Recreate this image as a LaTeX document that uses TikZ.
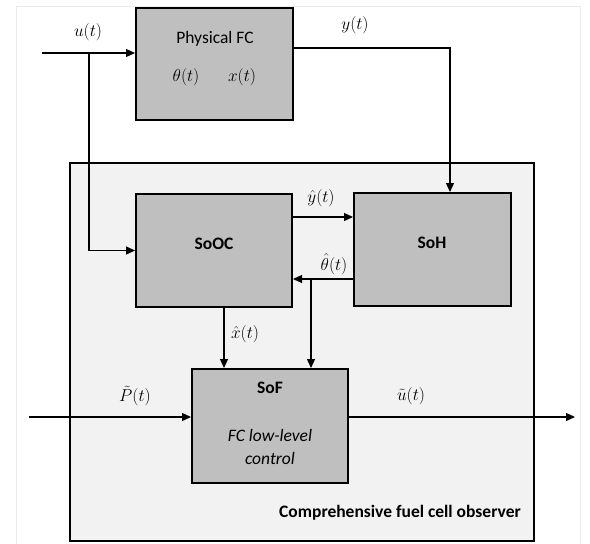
\documentclass[tikz,border=0pt]{standalone}
\usepackage{fontspec}
\setsansfont{Carlito}
\usetikzlibrary{arrows.meta}
\definecolor{boxgray}{HTML}{BFBFBF}
\definecolor{obsgray}{HTML}{F2F2F2}
\definecolor{framegray}{HTML}{EBEBEB}
\begin{document}
\begin{tikzpicture}[x=1pt,y=-1pt,
  blk/.style={draw=black,line width=2pt,fill=boxgray,inner sep=0pt},
  arr/.style={line width=1.3pt,-{Triangle[length=9pt,width=8pt]}},
  mlab/.style={font=\fontsize{18.5}{22}\selectfont,inner sep=0pt},
  txt/.style={font=\sffamily\fontsize{17.5}{21}\selectfont,inner sep=0pt},
  btxt/.style={font=\sffamily\bfseries\fontsize{17.5}{21}\selectfont,inner sep=0pt}]
\useasboundingbox (0,0) rectangle (590,544);
\fill[white] (0,0) rectangle (590,544);
\draw[framegray,line width=1pt] (16,560) -- (16,6) -- (580,6) -- (580,560);
% observer frame (container)
\draw[black,line width=1.6pt,fill=obsgray] (70,163) rectangle (534,541);
\node[btxt,anchor=east] (obslab) at (521,513) {Comprehensive fuel cell observer};
% blocks
\node[blk,minimum width=157pt,minimum height=112pt] (PFC) at (214.5,64) {};
\node[txt] (pfct) at (215,39) {Physical FC};
\node[mlab] (theta) at (186,77) {$\theta(t)$};
\node[mlab] (xt) at (242,77) {$x(t)$};
\node[blk,minimum width=156pt,minimum height=113pt] (SoOC) at (214,250.5) {};
\node[btxt] (sooct) at (214,244) {SoOC};
\node[blk,minimum width=157pt,minimum height=113pt] (SoH) at (432.5,249.5) {};
\node[btxt] (soht) at (432,243) {SoH};
\node[blk,minimum width=156pt,minimum height=114pt] (SoF) at (270,426) {};
\node[btxt] (soft) at (270,388) {SoF};
\node[txt,font=\sffamily\itshape\fontsize{17.5}{22.5}\selectfont,align=center] (sofc) at (270,447) {FC low-level\\control};
% coordinates
\coordinate (uin) at (42,53);
\coordinate (ub) at (89,53);
\coordinate (yk) at (450,48);
\coordinate (yh) at (0,217);
\coordinate (th) at (0,279);
\coordinate (tb) at (311,279);
\coordinate (xh) at (224,0);
\coordinate (pin) at (29,417);
\coordinate (uout) at (575,417);
% connectors
\draw[arr] (uin) -- (uin -| PFC.west);
\draw[arr] (ub) |- (SoOC.west);
\draw[arr] (PFC.east |- yk) -- (yk) -- (yk |- SoH.north);
\draw[arr] (SoOC.east |- yh) -- (SoH.west |- yh);
\draw[arr] (SoH.west |- th) -- (SoOC.east |- th);
\draw[arr] (tb) -- (tb |- SoF.north);
\draw[arr] (xh |- SoOC.south) -- (xh |- SoF.north);
\draw[arr] (pin) -- (pin -| SoF.west);
\draw[arr] (SoF.east |- uout) -- (uout);
% labels
\node[mlab] (ul) at (88,32) {$u(t)$};
\node[mlab] (yl) at (355,25) {$y(t)$};
\node[mlab] (yhl) at (321,198) {$\hat{y}(t)$};
\node[mlab] (thl) at (334,264) {$\hat{\theta}(t)$};
\node[mlab] (xhl) at (245,334) {$\hat{x}(t)$};
\node[mlab] (pl) at (135,396) {$\tilde{P}(t)$};
\node[mlab] (utl) at (411,396) {$\tilde{u}(t)$};
\end{tikzpicture}
\end{document}
